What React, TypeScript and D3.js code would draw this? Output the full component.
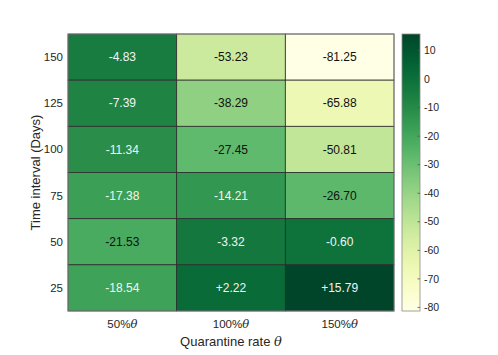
import React from 'react';
import * as d3 from 'd3';

// data
const rates = ['50%', '100%', '150%'];
const intervals = [150, 125, 100, 75, 50, 25];
const rate50 = [-4.83, -7.39, -11.34, -17.38, -21.53, -18.54];
const rate100 = [-53.23, -38.29, -27.45, -14.21, -3.32, 2.22];
const rate150 = [-81.25, -65.88, -50.81, -26.7, -0.6, 15.79];
const cbarTicks = [10, 0, -10, -20, -30, -40, -50, -60, -70, -80];

const W = 498;
const H = 355;
const margin = { top: 34, left: 68, right: 104, bottom: 44 };
const plotW = W - margin.left - margin.right;
const plotH = H - margin.top - margin.bottom;

const columns = [rate50, rate100, rate150];
const cells = [];
columns.forEach((vals, ci) => {
  vals.forEach((v, ri) => {
    cells.push({ rate: rates[ci], interval: intervals[ri], value: v });
  });
});

const allValues = cells.map(d => d.value);
const vmin = d3.min(allValues);
const vmax = d3.max(allValues);

const x = d3.scaleBand().domain(rates).range([0, plotW]);
const y = d3.scaleBand().domain(intervals.map(String)).range([0, plotH]);
const color = d3.scaleSequential(d3.interpolateYlGn).domain([vmin, vmax]);

const cbX = 402;
const cbW = 18;
const cbScale = d3.scaleLinear().domain([vmin, vmax]).range([margin.top + plotH, margin.top]);

const fmt = v => (v > 0 ? '+' : '') + v.toFixed(2);
const font = '"Liberation Sans", Arial, Helvetica, sans-serif';

export default function App() {
  const stops = d3.range(0, 1.0001, 0.05);
  return (
    <svg width={W} height={H} style={{ position: 'absolute', left: 0, top: 0, background: '#fff' }} fontFamily={font}>
      <defs>
        <linearGradient id="cbar" x1="0" y1="1" x2="0" y2="0">
          {stops.map(t => (
            <stop key={t} offset={t} stopColor={color(vmin + t * (vmax - vmin))} />
          ))}
        </linearGradient>
      </defs>
      <g transform={`translate(${margin.left},${margin.top})`}>
        {cells.map((d, i) => (
          <g key={i}>
            <rect
              x={x(d.rate)}
              y={y(String(d.interval))}
              width={x.bandwidth()}
              height={y.bandwidth()}
              fill={color(d.value)}
              stroke="#2b2b2b"
              strokeWidth={0.8}
            />
            <text
              x={x(d.rate) + x.bandwidth() / 2}
              y={y(String(d.interval)) + y.bandwidth() / 2}
              dy="0.35em"
              textAnchor="middle"
              fontSize={12}
              fill={d.value > -20 ? '#f4f4f4' : '#111'}
            >
              {fmt(d.value)}
            </text>
          </g>
        ))}
        <rect x={0} y={0} width={plotW} height={plotH} fill="none" stroke="#8a8a8a" strokeWidth={0.8} />
        {intervals.map(v => (
          <text key={v} x={-5} y={y(String(v)) + y.bandwidth() / 2} dy="0.35em" textAnchor="end" fontSize={11.5} fill="#262626">
            {v}
          </text>
        ))}
        {rates.map(r => (
          <text key={r} x={x(r) + x.bandwidth() / 2} y={plotH + 17} textAnchor="middle" fontSize={11.5} fill="#262626">
            {r}
            <tspan fontStyle="italic" fontFamily='"DejaVu Serif", serif'>θ</tspan>
          </text>
        ))}
        <text x={plotW / 2} y={plotH + 35} textAnchor="middle" fontSize={13} fill="#262626">
          Quarantine rate <tspan fontStyle="italic" fontFamily='"DejaVu Serif", serif'>θ</tspan>
        </text>
        <text transform={`translate(-28,${plotH / 2}) rotate(-90)`} textAnchor="middle" fontSize={13} fill="#262626">
          Time interval (Days)
        </text>
      </g>
      <rect x={cbX} y={margin.top} width={cbW} height={plotH} fill="url(#cbar)" stroke="#8a8a8a" strokeWidth={0.8} />
      {cbarTicks.map(t => (
        <g key={t}>
          <line x1={cbX + cbW - 2.5} x2={cbX + cbW} y1={cbScale(t)} y2={cbScale(t)} stroke="#555" strokeWidth={0.8} />
          <text x={cbX + cbW + 4} y={cbScale(t)} dy="0.35em" fontSize={10.5} fill="#262626">
            {t}
          </text>
        </g>
      ))}
    </svg>
  );
}
